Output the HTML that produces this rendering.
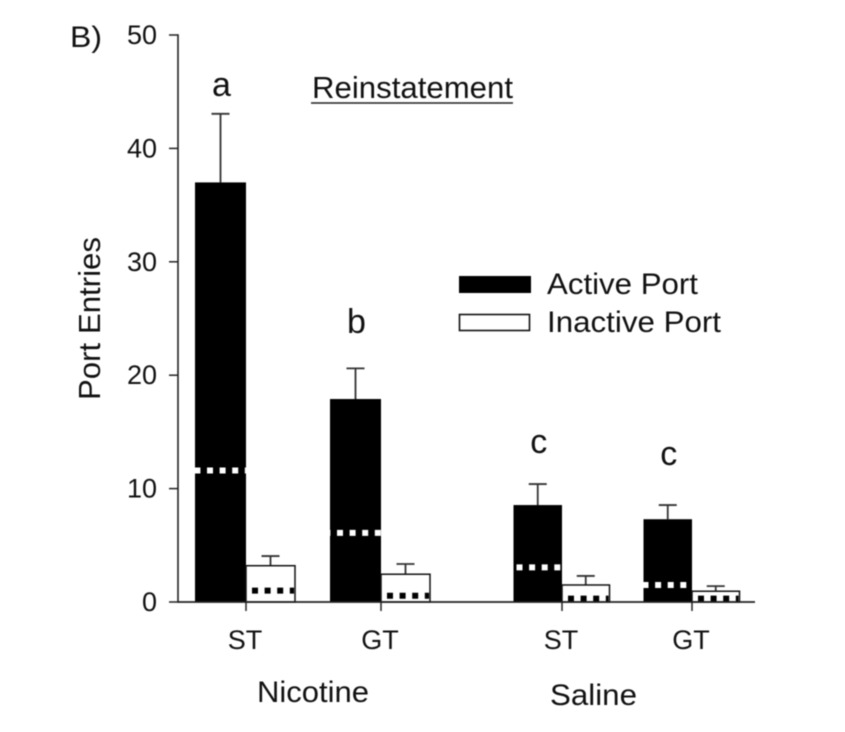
<!DOCTYPE html>
<html lang="en">
<head>
<meta charset="utf-8">
<title>Reinstatement Port Entries</title>
<style>
html,body{margin:0;padding:0;background:#fff;width:845px;height:732px;overflow:hidden}
svg{display:block;filter:blur(0.65px)}
text{font-family:"Liberation Sans",Arial,sans-serif;fill:#111}
</style>
</head>
<body>
<svg id="chart" width="845" height="732" viewBox="0 0 845 732" xmlns="http://www.w3.org/2000/svg">
  <text x="70" y="47" font-size="30" textLength="32" lengthAdjust="spacingAndGlyphs">B)</text>
  <text x="312" y="98" font-size="31" textLength="201" lengthAdjust="spacingAndGlyphs">Reinstatement</text>
  <line x1="311" y1="103" x2="513" y2="103" stroke="#222" stroke-width="1.6"/>
  <text transform="translate(100,400) rotate(-90)" font-size="31" textLength="163" lengthAdjust="spacingAndGlyphs">Port Entries</text>
  <g>
    <rect x="459" y="276" width="72" height="17" fill="#000"/>
    <text x="547" y="294" font-size="30" textLength="151" lengthAdjust="spacingAndGlyphs">Active Port</text>
    <rect x="459.5" y="314.5" width="70" height="16" fill="#fff" stroke="#111" stroke-width="1.6"/>
    <text x="547" y="332" font-size="30" textLength="174" lengthAdjust="spacingAndGlyphs">Inactive Port</text>
  </g>
  <text x="257" y="702" font-size="30" textLength="112" lengthAdjust="spacingAndGlyphs">Nicotine</text>
  <text x="550" y="705" font-size="30" textLength="87" lengthAdjust="spacingAndGlyphs">Saline</text>
</svg>
<script>
const categories = ['ST', 'GT', 'ST', 'GT'];
const activeValues = [37, 17.9, 8.55, 7.3];
const activeErrors = [6.05, 2.7, 1.85, 1.25];
const activeMarkers = [11.6, 6.1, 3.05, 1.5];
const inactiveValues = [3.2, 2.45, 1.5, 0.95];
const inactiveErrors = [0.85, 0.9, 0.8, 0.45];
const inactiveMarkers = [1.0, 0.55, 0.3, 0.3];
const significanceLetters = ['a', 'b', 'c', 'c'];
const letterValues = [45.5, 24.6, 14.0, 12.95];
const yTicks = [0, 10, 20, 30, 40, 50];

const svg = document.getElementById('chart');
const NS = 'http://www.w3.org/2000/svg';
const y = v => 602 - v * 11.34;
const xCenter = i => (i < 2 ? 246 + i * 135 : 562 + (i - 2) * 130);
const activeWidth = i => (i < 2 ? 51 : 48.5);
const inactiveWidth = i => (i < 2 ? 49 : 47.5);
const dotPhase = i => (i === 0 ? 0.6 : i === 1 ? 5.6 : i === 2 ? 9.6 : 1);

function make(tag, attrs, text) {
  const el = document.createElementNS(NS, tag);
  for (const k in attrs) el.setAttribute(k, attrs[k]);
  if (text !== undefined) el.textContent = text;
  svg.appendChild(el);
  return el;
}

function errorBar(cx, top, err) {
  const line = make('line', {x1: cx, x2: cx, y1: y(top), y2: y(top + err), stroke: '#333', 'stroke-width': 1.8});
  
  
  const cap = make('line', {x1: cx - 9, x2: cx + 9, y1: y(top + err), y2: y(top + err), stroke: '#333', 'stroke-width': 1.8});
  
  
}

categories.forEach((cat, i) => {
  const cx = xCenter(i);
  const aw = activeWidth(i);
  const iw = inactiveWidth(i);
  const ax = cx - aw;

  errorBar(ax + aw / 2, activeValues[i], activeErrors[i]);
  errorBar(cx + iw / 2, inactiveValues[i], inactiveErrors[i]);

  const a = make('rect', {x: ax, y: y(activeValues[i]), width: aw, height: y(0) - y(activeValues[i]), fill: '#000'});
  
  

  const b = make('rect', {x: cx, y: y(inactiveValues[i]), width: iw, height: y(0) - y(inactiveValues[i]), fill: '#fff', stroke: '#111', 'stroke-width': 1.5});
  
  

  const am = make('line', {x1: ax, x2: ax + aw, y1: y(activeMarkers[i]), y2: y(activeMarkers[i]), stroke: '#fff', 'stroke-width': 6, 'stroke-dasharray': '6 6.6', 'stroke-dashoffset': dotPhase(i)});
  
  

  const im = make('line', {x1: cx + 6, x2: cx + iw - 1, y1: y(inactiveMarkers[i]), y2: y(inactiveMarkers[i]), stroke: '#000', 'stroke-width': 6, 'stroke-dasharray': '6 6.6'});
  
  

  const tick = make('line', {x1: cx, x2: cx, y1: y(0), y2: y(0) + 9, stroke: '#222', 'stroke-width': 1.5});
  
  

  const label = make('text', {x: cx - 1, y: 649, 'text-anchor': 'middle', 'font-size': 27}, cat);
  
  

  const letter = make('text', {x: ax + aw / 2 + 1, y: y(letterValues[i]) + 10, 'text-anchor': 'middle', 'font-size': 34}, significanceLetters[i]);
  
  
});

const yAxis = make('line', {x1: 178, x2: 178, y1: y(50) - 0.7, y2: y(0) + 0.7, stroke: '#222', 'stroke-width': 1.6});



const xAxis = make('line', {x1: 178, x2: 755, y1: y(0), y2: y(0), stroke: '#222', 'stroke-width': 1.7});



yTicks.forEach(t => {
  const tk = make('line', {x1: 169, x2: 178, y1: y(t), y2: y(t), stroke: '#222', 'stroke-width': 1.5});
  
  
  const lb = make('text', {x: 157, y: y(t) + 9, 'text-anchor': 'end', 'font-size': 27}, String(t));
  
  
});
</script>
</body>
</html>
